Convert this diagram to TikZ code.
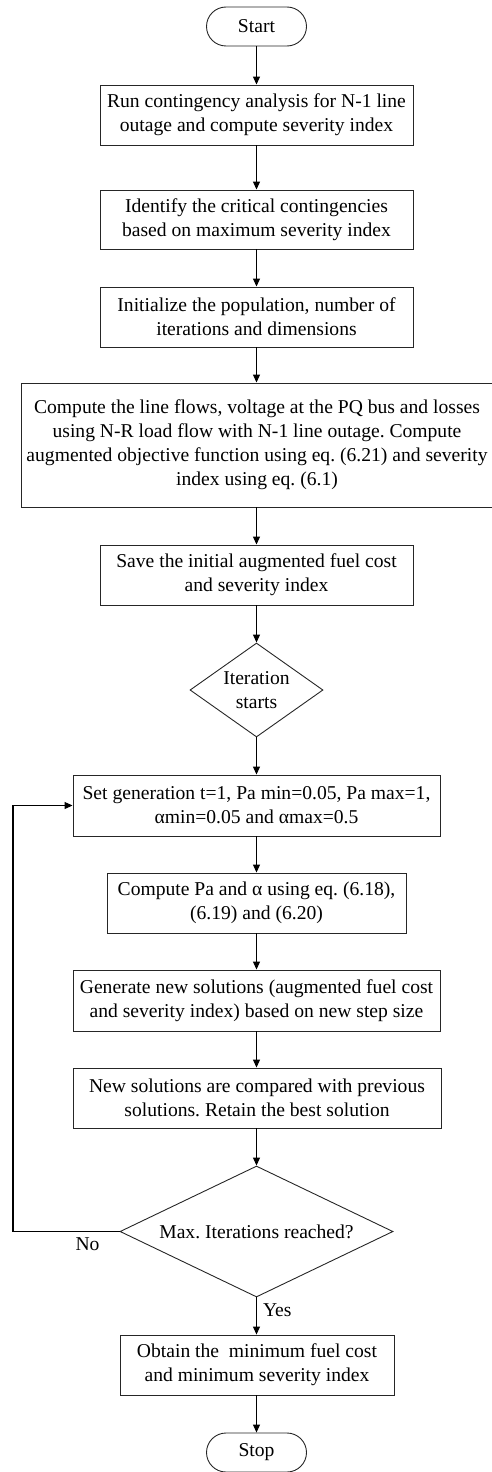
\documentclass[tikz,border=0pt]{standalone}
\usepackage{fontspec}
\setmainfont{Liberation Serif}
\usetikzlibrary{arrows.meta,shapes.geometric}
\frenchspacing

\tikzset{
  every node/.style={font=\fontsize{19.6}{24}\selectfont},
  box/.style={draw=black!85, line width=0.9pt, rectangle, align=center,
    inner sep=0pt, minimum height=60pt},
  term/.style={draw=black!85, line width=0.9pt, rectangle, rounded corners=19.5pt,
    inner sep=0pt, minimum width=100pt, minimum height=39pt},
  decision/.style={draw=black!85, line width=0.9pt, diamond, inner sep=0pt},
  lbl/.style={inner sep=0pt, align=center},
  flow/.style={line width=1.1pt, -{Triangle[length=8pt, width=7pt]}},
}

\begin{document}
\begin{tikzpicture}[x=1pt, y=-1pt]
\useasboundingbox (0,0) rectangle (491,1472);

% terminals and process boxes
\node[term] (start) at (256.5,26.5) {Start};
\node[box, minimum width=313pt] (run) at (256.5,115)
  {Run contingency analysis for N-1 line\\outage and compute severity index};
\node[box, minimum width=313pt, minimum height=59pt] (ident) at (256.5,219.5)
  {Identify the critical contingencies\\based on maximum severity index};
\node[box, minimum width=313pt] (init) at (256.5,317)
  {Initialize the population, number of\\iterations and dimensions};
\node[box, minimum width=472pt, minimum height=124pt] (flows) at (257,445)
  {Compute the line flows, voltage at the PQ bus and losses\\
   using N-R load flow with N-1 line outage. Compute\\
   augmented objective function using eq. (6.21) and severity\\
   index using eq. (6.1)};
\node[box, minimum width=313pt] (save) at (256.5,575)
  {Save the initial augmented fuel cost\\and severity index};

% first decision
\node[decision, minimum width=133pt, minimum height=94pt] (iter) at (256.5,690) {};
\node[lbl] at (iter) {Iteration\\starts};

\node[box, minimum width=367pt, minimum height=61pt] (setgen) at (256.5,805.5)
  {Set generation t=1, Pa min=0.05, Pa max=1,\\αmin=0.05 and αmax=0.5};
\node[box, minimum width=299pt] (pa) at (256.5,903)
  {Compute Pa and α using eq. (6.18),\\(6.19) and (6.20)};
\node[box, minimum width=367pt, minimum height=61pt] (gen) at (256.5,1000.5)
  {Generate new solutions (augmented fuel cost\\and severity index) based on new step size};
\node[box, minimum width=368pt] (comp) at (257,1098)
  {New solutions are compared with previous\\solutions. Retain the best solution};

% second decision
\node[decision, minimum width=273pt, minimum height=131pt] (maxit) at (256.5,1231.5) {};
\node[lbl] at (maxit) {Max. Iterations reached?};

\node[box, minimum width=274pt] (obtain) at (257,1365)
  {Obtain the~ minimum fuel cost\\and minimum severity index};
\node[term] (stop) at (256.5,1452.5) {Stop};

% return path corner
\coordinate (back) at (13,1231.5);

% connectors
\draw[flow] (start) -- (run);
\draw[flow] (run) -- (ident);
\draw[flow] (ident) -- (init);
\draw[flow] (init) -- (flows.north -| init);
\draw[flow] (flows.south -| save) -- (save);
\draw[flow] (save) -- (iter);
\draw[flow] (iter) -- (setgen);
\draw[flow] (setgen) -- (pa);
\draw[flow] (pa) -- (gen);
\draw[flow] (gen) -- (comp.north -| gen);
\draw[flow] (comp.south -| gen) -- (maxit);
\draw[flow] (maxit.south) -- (maxit.south |- obtain.north)
  node[lbl, pos=0.35, anchor=west, xshift=6pt] (yes) {Yes};
\draw[flow] (obtain.south -| stop) -- (stop);
\draw[flow] (maxit.west) -- (back) |- (setgen.west);
\node[lbl] (no) at (87.5,1244) {No};
\end{tikzpicture}
\end{document}
